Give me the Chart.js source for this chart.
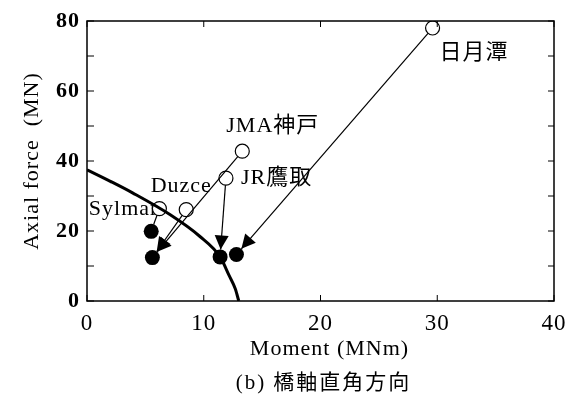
<!DOCTYPE html>
<html>
<head>
<meta charset="utf-8">
<script src="https://cdn.jsdelivr.net/npm/chart.js@4"></script>
<style>
  html, body { margin: 0; padding: 0; background: #fff; }
</style>
</head>
<body>
<canvas id="chart" width="582" height="401"></canvas>
<script>
// Interaction curve (Moment, Axial force)
const curveM = [0, 2, 3.9, 7.1, 9.65, 11.4, 12.2, 12.7, 13.0];
const curveN = [37.5, 34.2, 30.9, 24.7, 18.5, 12.6, 7.1, 3.5, 0];

// Open circles: start states
const openNames = ["Sylmar", "Duzce", "JR鷹取", "JMA神戸", "日月潭"];
const openM = [6.2, 8.5, 11.9, 13.3, 29.6];
const openN = [26.4, 26.1, 35.1, 42.8, 78.0];

// Filled circles: end states
const filledM = [5.5, 5.6, 11.4, 12.8];
const filledN = [19.9, 12.4, 12.6, 13.3];

// Arrows: open index -> filled index
const arrowFrom = [0, 1, 3, 2, 4];
const arrowTo = [0, 1, 1, 2, 3];

const xTicks = [0, 10, 20, 30, 40];
const yTicks = [0, 20, 40, 60, 80];

const xTitle = "Moment (MNm)";
const yTitle = "Axial force  (MN)";
const caption = "(b) 橋軸直角方向";

const serif = "'Liberation Serif', 'Noto Sans CJK JP', serif";

function toPoints(xs, ys) {
  return xs.map((v, i) => ({ x: v, y: ys[i] }));
}

// The scanned original has slightly loose letter spacing
const spacing = {
  id: "spacing",
  beforeDraw(chart) {
    chart.ctx.letterSpacing = "1px";
  }
};

// Point labels drawn next to the open circles
const pointLabels = {
  id: "pointLabels",
  beforeDatasetsDraw(chart, args, opts) {
    const { ctx, scales: { x, y } } = chart;
    ctx.save();
    ctx.font = "22px " + serif;
    ctx.fillStyle = "#000";
    ctx.textBaseline = "middle";
    openNames.forEach((name, i) => {
      const o = opts.offsets[i];
      ctx.textAlign = o[2];
      ctx.fillText(name, x.getPixelForValue(openM[i]) + o[0], y.getPixelForValue(openN[i]) + o[1]);
    });
    ctx.restore();
  }
};

// Arrows from open circles to filled circles
const arrows = {
  id: "arrows",
  afterDatasetsDraw(chart, args, opts) {
    const { ctx, scales: { x, y } } = chart;
    ctx.save();
    ctx.strokeStyle = "#000";
    ctx.fillStyle = "#000";
    ctx.lineWidth = 1.2;
    arrowFrom.forEach((f, i) => {
      const t = arrowTo[i];
      const x0 = x.getPixelForValue(openM[f]), y0 = y.getPixelForValue(openN[f]);
      const x1 = x.getPixelForValue(filledM[t]), y1 = y.getPixelForValue(filledN[t]);
      const len = Math.hypot(x1 - x0, y1 - y0);
      const ux = (x1 - x0) / len, uy = (y1 - y0) / len;
      const sx = x0 + ux * 7, sy = y0 + uy * 7;
      const ex = x1 - ux * 7.5, ey = y1 - uy * 7.5;
      ctx.beginPath();
      ctx.moveTo(sx, sy);
      ctx.lineTo(ex, ey);
      ctx.stroke();
      if (len > 40) {
        const hl = opts.headLength, hw = opts.headWidth / 2;
        const bx = ex - ux * hl, by = ey - uy * hl;
        ctx.beginPath();
        ctx.moveTo(ex, ey);
        ctx.lineTo(bx - uy * hw, by + ux * hw);
        ctx.lineTo(bx + uy * hw, by - ux * hw);
        ctx.closePath();
        ctx.fill();
      }
    });
    ctx.restore();
  }
};

// Box frame, inward ticks on all four sides, x title and caption
const frameTicks = {
  id: "frameTicks",
  afterDraw(chart) {
    const { ctx, chartArea: a, scales: { x, y } } = chart;
    ctx.save();
    ctx.strokeStyle = "#000";
    ctx.lineWidth = 1.5;
    ctx.strokeRect(a.left, a.top, a.right - a.left, a.bottom - a.top);
    ctx.lineWidth = 1;
    ctx.beginPath();
    x.ticks.forEach(t => {
      const px = x.getPixelForValue(t.value);
      ctx.moveTo(px, a.bottom); ctx.lineTo(px, a.bottom - 6);
      ctx.moveTo(px, a.top); ctx.lineTo(px, a.top + 6);
    });
    y.ticks.forEach(t => {
      const py = y.getPixelForValue(t.value);
      ctx.moveTo(a.left, py); ctx.lineTo(a.left + 7, py);
      ctx.moveTo(a.right, py); ctx.lineTo(a.right - 6, py);
    });
    ctx.stroke();

    const cx = (a.left + a.right) / 2;
    ctx.fillStyle = "#000";
    ctx.textAlign = "center";
    ctx.textBaseline = "middle";
    ctx.letterSpacing = "1px";
    ctx.font = "22px " + serif;
    ctx.fillText(xTitle, cx + 9, 349);
    ctx.letterSpacing = "2px";
    ctx.font = "21px " + serif;
    ctx.fillText(caption, cx + 3, 383);
    ctx.restore();
  }
};

new Chart(document.getElementById("chart"), {
  type: "scatter",
  data: {
    datasets: [
      {
        label: "curve",
        data: toPoints(curveM, curveN),
        showLine: true,
        borderColor: "#000",
        borderWidth: 3,
        pointRadius: 0,
        cubicInterpolationMode: "monotone"
      },
      {
        label: "start",
        data: toPoints(openM, openN),
        pointRadius: 7,
        borderWidth: 1.2,
        borderColor: "#000",
        backgroundColor: "#fff"
      },
      {
        label: "end",
        data: toPoints(filledM, filledN),
        pointRadius: 7.5,
        borderWidth: 0,
        backgroundColor: "#000"
      }
    ]
  },
  options: {
    responsive: false,
    animation: false,
    layout: { padding: { left: 0, right: 28, top: 21, bottom: 0 } },
    plugins: {
      legend: { display: false },
      tooltip: { enabled: false },
      pointLabels: {
        offsets: [[-1, 1, "right"], [-5, -23, "center"], [15, 0, "left"], [-16, -25, "left"], [7, 25, "left"]]
      },
      arrows: { headLength: 14, headWidth: 14 }
    },
    scales: {
      x: {
        type: "linear",
        min: 0,
        max: 40,
        afterBuildTicks: s => { s.ticks = xTicks.map(v => ({ value: v })); },
        afterFit: s => { s.height = 100; },
        grid: { display: false, drawTicks: false },
        border: { display: false },
        ticks: { color: "#000", padding: 9, font: { family: serif, size: 23 } }
      },
      y: {
        type: "linear",
        min: 0,
        max: 80,
        ticks: {
          stepSize: 10,
          color: "#000",
          padding: 7,
          font: { family: serif, size: 22, weight: "bold" },
          callback: v => (yTicks.includes(v) ? v : "")
        },
        afterFit: s => { s.width = 87; },
        grid: { display: false, drawTicks: false },
        border: { display: false },
        title: {
          display: true,
          text: yTitle,
          color: "#000",
          font: { family: serif, size: 22 },
          padding: { top: 19, bottom: 0 }
        }
      }
    }
  },
  plugins: [spacing, pointLabels, arrows, frameTicks]
});
</script>
</body>
</html>
